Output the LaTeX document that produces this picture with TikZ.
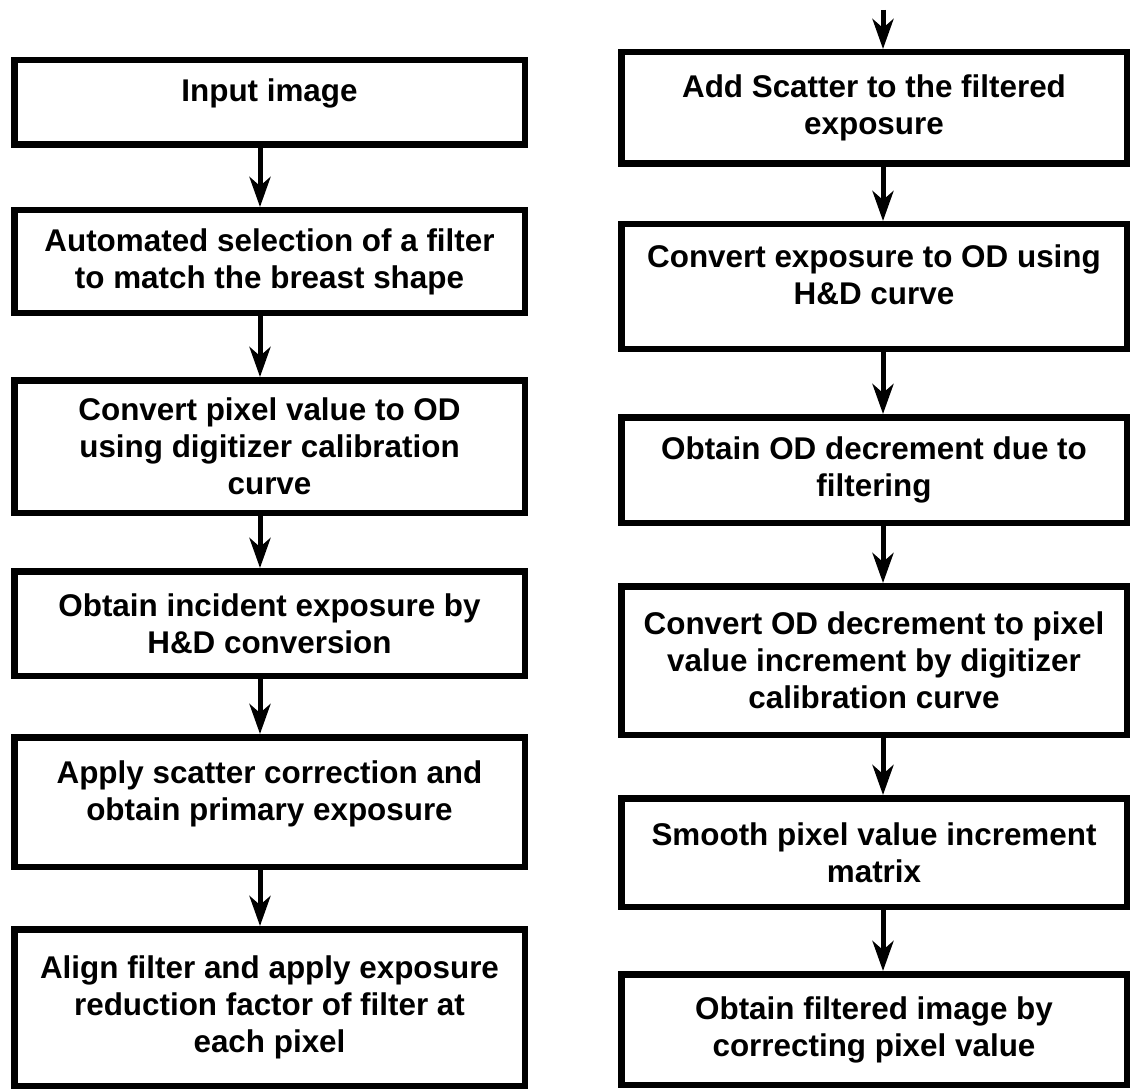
\documentclass[tikz,border=0pt]{standalone}
\usepackage{fontspec}
\setmainfont{Liberation Sans}
\usetikzlibrary{positioning,arrows.meta}

\begin{document}
\begin{tikzpicture}[x=1pt, y=-1pt, node distance=160pt,
    block/.style={draw, rectangle, line width=6.5pt, minimum width=510.5pt, align=center, inner sep=4pt, font=\fontsize{31.4}{37}\selectfont\bfseries},
    flow/.style={-{Stealth[length=30pt, width=21pt, inset=9pt]}, line width=5pt}]
    \useasboundingbox (0,0) rectangle (1134,1091);

    % Bloques columna izquierda
    \node [block, minimum height=84.5pt] (left1) at (269.5,102.5) {Input image\\[-12pt]~};
    \node [block, minimum height=102.5pt, below of=left1, node distance=159pt] (left2) {Automated selection of a filter\\to match the breast shape};
    \node [block, minimum height=132.5pt, below of=left2, node distance=185pt] (left3) {Convert pixel value to OD\\using digitizer calibration\\curve};
    \node [block, minimum height=104.5pt, below of=left3, node distance=177pt] (left4) {Obtain incident exposure by\\H\&D conversion};
    \node [block, minimum height=129.5pt, below of=left4, node distance=178.5pt] (left5) {Apply scatter correction and\\obtain primary exposure\\[-14pt]~};
    \node [block, minimum height=156.5pt, below of=left5, node distance=205.5pt] (left6) {Align filter and apply exposure\\reduction factor of filter at\\each pixel};

    % Bloques columna derecha
    \node [block, minimum width=505.5pt, minimum height=111.5pt] (right1) at (874,108) {Add Scatter to the filtered\\exposure};
    \node [block, minimum width=505.5pt, minimum height=124.5pt, below of=right1, node distance=178.5pt] (right2) {Convert exposure to OD using\\H\&D curve\\[-14pt]~};
    \node [block, minimum width=505.5pt, minimum height=105.5pt, below of=right2, node distance=183.5pt] (right3) {Obtain OD decrement due to\\filtering};
    \node [block, minimum width=505.5pt, minimum height=148.5pt, below of=right3, node distance=190.5pt] (right4) {Convert OD decrement to pixel\\value increment by digitizer\\calibration curve};
    \node [block, minimum width=505.5pt, minimum height=108.5pt, below of=right4, node distance=192pt] (right5) {Smooth pixel value increment\\matrix};
    \node [block, minimum width=505.5pt, minimum height=110.5pt, below of=right5, node distance=177pt] (right6) {Obtain filtered image by\\correcting pixel value};
    \coordinate (entry) at (883,10);

    % Flechas
    \draw[flow] ([xshift=-9.5pt]left1.south) -- ([xshift=-9.5pt]left2.north);
    \draw[flow] ([xshift=-9.5pt]left2.south) -- ([xshift=-9.5pt]left3.north);
    \draw[flow] ([xshift=-9.5pt]left3.south) -- ([xshift=-9.5pt]left4.north);
    \draw[flow] ([xshift=-9.5pt]left4.south) -- ([xshift=-9.5pt]left5.north);
    \draw[flow] ([xshift=-9.5pt]left5.south) -- ([xshift=-9.5pt]left6.north);
    \draw[flow] (entry) -- ([xshift=9pt]right1.north);
    \draw[flow] ([xshift=9pt]right1.south) -- ([xshift=9pt]right2.north);
    \draw[flow] ([xshift=9pt]right2.south) -- ([xshift=9pt]right3.north);
    \draw[flow] ([xshift=9pt]right3.south) -- ([xshift=9pt]right4.north);
    \draw[flow] ([xshift=9pt]right4.south) -- ([xshift=9pt]right5.north);
    \draw[flow] ([xshift=9pt]right5.south) -- ([xshift=9pt]right6.north);

\end{tikzpicture}
\end{document}
